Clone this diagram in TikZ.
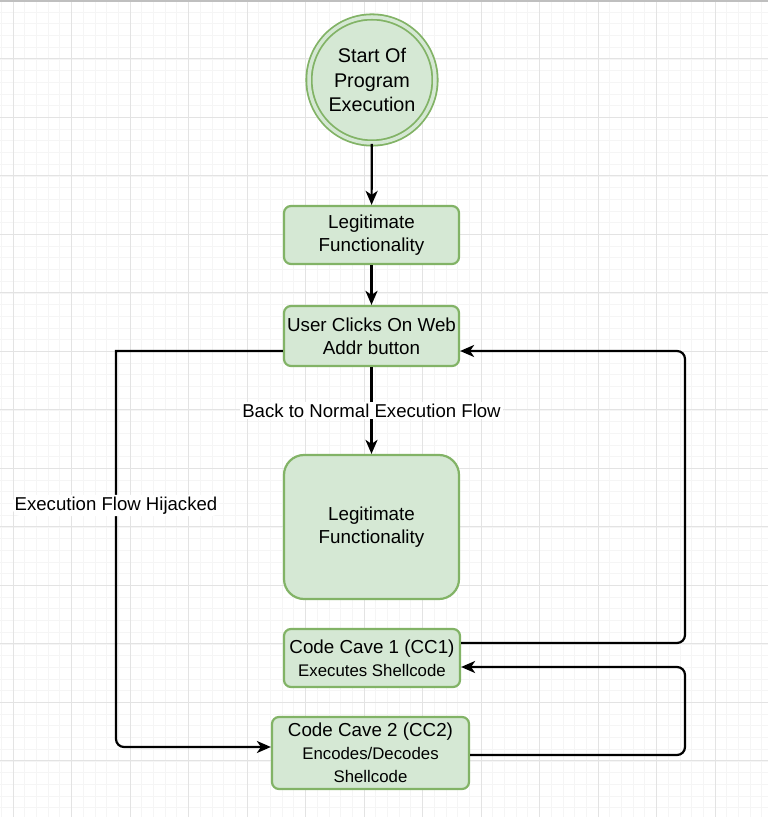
\documentclass[tikz,border=0pt]{standalone}
\usepackage{fontspec}
\setmainfont{Liberation Sans}
\usetikzlibrary{arrows.meta}
\definecolor{boxfill}{HTML}{D5E8D4}
\definecolor{boxline}{HTML}{82B366}
\tikzset{
  box/.style={draw=boxline,fill=boxfill,line width=2.2,rounded corners=7,
    align=center,inner sep=0pt,font=\fontsize{18.8}{23}\selectfont},
  flow/.style={line width=2.2,-{Stealth[length=14,width=12,inset=4]}},
  lbl/.style={fill=white,inner sep=2pt,font=\fontsize{18.6}{22}\selectfont}
}
\newcommand{\smalltxt}{\fontsize{16.8}{21}\selectfont}
\begin{document}
\begin{tikzpicture}[x=1pt,y=1pt]
            \useasboundingbox (0,0) rectangle (768,817);
            \fill[white] (0,0) rectangle (768,817);
            % grid
            \draw[black!4,line width=0.8,step=11.7,shift={(13,758)}] (-13,-758) grid (755,59);
            \draw[black!11,line width=1,step=58.5,shift={(13,758)}] (-13,-758) grid (755,59);
            \draw[black!25,line width=2] (0,816) -- (768,816);
            % nodes
            \node[circle,draw=boxline,fill=boxfill,line width=1.8,double=boxfill,double distance=3.5,
              minimum size=126,inner sep=0pt,align=center,font=\fontsize{19.8}{24.5}\selectfont]
              (start) at (372,737) {Start Of\\Program\\Execution};
            \node[box,minimum width=175,minimum height=58] (legitA) at (371.5,582) {Legitimate\\Functionality};
            \node[box,minimum width=175,minimum height=60] (click) at (371.5,481) {User Clicks On Web\\Addr button};
            \node[box,rounded corners=20,minimum width=175,minimum height=144] (legitB) at (371.5,290) {Legitimate\\Functionality};
            \node[box,minimum width=176,minimum height=58] (cave1) at (372,159) {Code Cave 1 (CC1)\\{\smalltxt Executes Shellcode}};
            \node[box,minimum width=197,minimum height=72] (cave2) at (370.5,64) {Code Cave 2 (CC2)\\{\smalltxt Encodes/Decodes}\\{\smalltxt Shellcode}};
            % connectors
            \draw[flow] (start) -- (legitA);
            \draw[flow] (legitA) -- (click);
            \draw[flow] (click) -- node[lbl] (back) {Back to Normal Execution Flow} (legitB);
            \coordinate (hijack) at (116,466);
            \draw[flow] ([yshift=-15]click.west) -- (hijack) [rounded corners=8] |- ([yshift=6]cave2.west)
              node[lbl,pos=0.195] (hijacklbl) {Execution Flow Hijacked};
            \coordinate (loopA) at (685,174);
            \draw[flow,rounded corners=8] ([yshift=15]cave1.east) -- (loopA) |- ([yshift=-15]click.east);
            \coordinate (loopB) at (685,62);
            \draw[flow,rounded corners=8] ([yshift=-2]cave2.east) -- (loopB) |- ([yshift=-9]cave1.east);
        \end{tikzpicture}
\end{document}
